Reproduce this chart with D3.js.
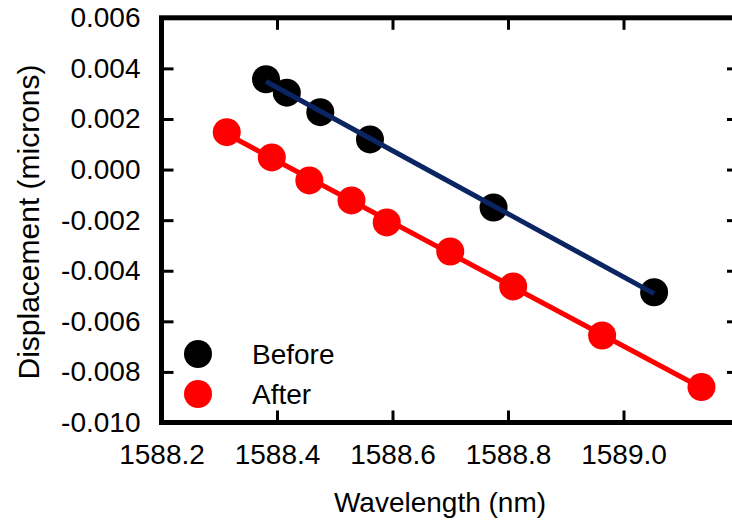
<!DOCTYPE html>
<html>
<head>
<meta charset="utf-8">
<script src="https://cdn.jsdelivr.net/npm/d3@7"></script>
<style>
  body { margin: 0; background: #fff; }
  text { font-family: "Liberation Sans", Arial, sans-serif; fill: #000; }
</style>
</head>
<body>
<div id="chart"></div>
<script>
/* data */
var beforeWl  = [1588.381, 1588.417, 1588.475, 1588.561, 1588.775, 1589.053];
var beforeDis = [0.00357, 0.00304, 0.00227, 0.00119, -0.00150, -0.00485];
var afterWl   = [1588.313, 1588.391, 1588.456, 1588.529, 1588.590, 1588.700, 1588.809, 1588.963, 1589.135];
var afterDis  = [0.00148, 0.00048, -0.00043, -0.00122, -0.00209, -0.00324, -0.00462, -0.00656, -0.00860];
var xTicks = [1588.2, 1588.4, 1588.6, 1588.8, 1589.0, 1589.2];
var xLabels = [1588.2, 1588.4, 1588.6, 1588.8, 1589.0];
var yTicks = [0.006, 0.004, 0.002, 0.000, -0.002, -0.004, -0.006, -0.008, -0.010];
var seriesNames = ["Before", "After"];
var dotColors = ["#000000", "#ff0000"];
var lineColors = ["#0b2563", "#ff0000"];

/* setup */
var iWidth = 732, iHeight = 527;
var pLeft = 161.5, pTop = 17.8, pRight = 739, pBottom = 422.5;
var fontSize = 28, dotR = 14, frameW = 5, tickLen = 12;

var x = d3.scaleLinear().domain([1588.2, 1589.2]).range([pLeft, pRight]);
var y = d3.scaleLinear().domain([-0.010, 0.006]).range([pBottom, pTop]);

function zip(a, b) { return a.map(function (v, i) { return { w: v, d: b[i] }; }); }

// least squares fit over the points, drawn from first to last point
function fit(pts) {
    var mx = d3.mean(pts, function (p) { return p.w; }),
        my = d3.mean(pts, function (p) { return p.d; }),
        sxy = d3.sum(pts, function (p) { return (p.w - mx) * (p.d - my); }),
        sxx = d3.sum(pts, function (p) { return (p.w - mx) * (p.w - mx); }),
        k = sxy / sxx, b = my - k * mx,
        x0 = d3.min(pts, function (p) { return p.w; }),
        x1 = d3.max(pts, function (p) { return p.w; });
    return [{ w: x0, d: k * x0 + b }, { w: x1, d: k * x1 + b }];
}

var series = [zip(beforeWl, beforeDis), zip(afterWl, afterDis)];

var svg = d3.select('#chart').append('svg')
    .attr('width', iWidth)
    .attr('height', iHeight);

/* axes: ticks point inward on all four sides */
var fmtY = d3.format('.3f');
svg.append('g')
    .attr('transform', 'translate(' + pLeft + ',0)')
    .call(d3.axisLeft(y).tickValues(yTicks).tickSize(-tickLen).tickPadding(21)
        .tickFormat(function (d) { return fmtY(d).replace('−', '-'); }));
svg.append('g')
    .attr('transform', 'translate(' + pRight + ',0)')
    .call(d3.axisRight(y).tickValues(yTicks).tickSize(-tickLen).tickFormat(''));
svg.append('g')
    .attr('transform', 'translate(0,' + pBottom + ')')
    .call(d3.axisBottom(x).tickValues(xTicks).tickSize(-tickLen).tickPadding(22)
        .tickFormat(function (d) { return xLabels.indexOf(d) >= 0 ? d3.format('.1f')(d) : ''; }));
svg.append('g')
    .attr('transform', 'translate(0,' + pTop + ')')
    .call(d3.axisTop(x).tickValues(xTicks).tickSize(-tickLen).tickFormat(''));

svg.selectAll('.domain').remove();
svg.selectAll('.tick line').attr('stroke', '#000').attr('stroke-width', 3);
svg.selectAll('.tick text')
    .style('font-size', fontSize + 'px')
    .style('font-family', '"Liberation Sans", Arial, sans-serif')
    .attr('fill', '#000');

svg.append('rect')
    .attr('x', pLeft).attr('y', pTop)
    .attr('width', pRight - pLeft).attr('height', pBottom - pTop)
    .attr('fill', 'none')
    .attr('stroke', '#000')
    .attr('stroke-width', frameW);

/* points, then fit lines on top */
series.forEach(function (pts, i) {
    svg.append('g').selectAll('circle')
        .data(pts)
        .enter().append('circle')
        .attr('cx', function (p) { return x(p.w); })
        .attr('cy', function (p) { return y(p.d); })
        .attr('r', dotR)
        .attr('fill', dotColors[i]);
});
series.forEach(function (pts, i) {
    svg.append('path')
        .datum(fit(pts))
        .attr('d', d3.line().x(function (p) { return x(p.w); }).y(function (p) { return y(p.d); }))
        .attr('stroke', lineColors[i])
        .attr('stroke-width', 5)
        .attr('fill', 'none');
});

/* legend */
var legend = svg.append('g').attr('transform', 'translate(198,354)');
seriesNames.forEach(function (name, i) {
    legend.append('circle')
        .attr('cx', 0).attr('cy', i * 40)
        .attr('r', dotR)
        .attr('fill', dotColors[i]);
    legend.append('text')
        .attr('x', 54).attr('y', i * 40)
        .attr('dy', '0.36em')
        .style('font-size', fontSize + 'px')
        .text(name);
});

/* axis titles */
svg.append('text')
    .attr('x', 440).attr('y', 512)
    .attr('text-anchor', 'middle')
    .style('font-size', fontSize + 'px')
    .text('Wavelength (nm)');
svg.append('text')
    .attr('transform', 'translate(39,222) rotate(-90)')
    .attr('text-anchor', 'middle')
    .style('font-size', '30px')
    .text('Displacement (microns)');
</script>
</body>
</html>
